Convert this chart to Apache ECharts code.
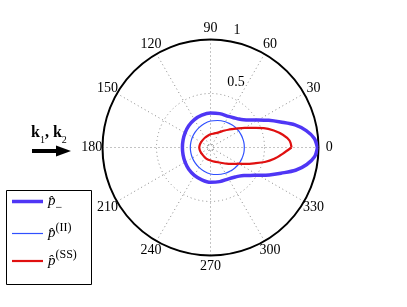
<!DOCTYPE html>
<html><head><meta charset="utf-8">
<script src="https://cdn.jsdelivr.net/npm/echarts@6/dist/echarts.min.js"></script>
<style>html,body{margin:0;padding:0;background:#fff}#c{width:407px;height:307px}</style>
</head><body><div id="c"></div>
<script>
// angles (degrees) at which the curves were read
var angles = [0,5,10,15,20,25,30,35,40,45,50,60,75,90,105,120,135,150,165,180,195,210,225,240,255,270,285,300,310,315,320,325,330,335,340,345,350,355,360];
// p_- (thick blue)
var pMinus = [0.99,0.965,0.90,0.81,0.69,0.595,0.51,0.445,0.40,0.372,0.355,0.333,0.325,0.32,0.31,0.298,0.285,0.272,0.263,0.26,0.263,0.272,0.285,0.298,0.31,0.322,0.327,0.335,0.357,0.375,0.405,0.45,0.515,0.60,0.695,0.815,0.905,0.968,0.99];
// p^(II) (thin blue)
var pII = [0.313,0.313,0.312,0.310,0.308,0.305,0.303,0.299,0.295,0.290,0.285,0.275,0.259,0.245,0.228,0.213,0.201,0.193,0.188,0.187,0.188,0.193,0.201,0.213,0.228,0.245,0.259,0.275,0.285,0.290,0.295,0.299,0.303,0.305,0.308,0.310,0.312,0.313,0.313];
// p^(SS) (red)
var pSS = [0.75,0.735,0.68,0.607,0.525,0.43,0.365,0.31,0.265,0.232,0.205,0.165,0.135,0.122,0.11,0.104,0.10,0.10,0.102,0.104,0.102,0.10,0.10,0.105,0.113,0.12,0.135,0.16,0.19,0.21,0.235,0.265,0.30,0.36,0.43,0.52,0.60,0.67,0.75];
// angle tick labels
var angleTicks = [0,30,60,90,120,150,180,210,240,270,300,330];
// radial tick labels
var radialTicks = ['0.5','1'];
var innerRingR = 0.028;
var innerRingAngles = [0,30,60,90,120,150,180,210,240,270,300,330,360];

var seriesNames = ['pm','pII','pSS'];
function pairs(vals){ return vals.map(function(v,i){ return [v, angles[i]]; }); }

var CX = 210.5, CY = 147.5, R = 108;
var chart = echarts.init(document.getElementById('c'), null, {renderer:'canvas'});
var serif = 'Liberation Serif';
var rich = {
  p:{fontFamily:serif,fontStyle:'italic',fontSize:15,lineHeight:24,color:'#000'},
  sub:{fontFamily:serif,fontSize:12,lineHeight:14,verticalAlign:'bottom',color:'#000'},
  sup:{fontFamily:serif,fontSize:12,lineHeight:13,verticalAlign:'top',color:'#000'}
};
var legendText = {
  pm:'{p|p̂}{sub|−}',
  pII:'{p|p̂}{sup|(II)}',
  pSS:'{p|p̂}{sup|(SS)}'
};
function polarPt(r, deg){
  var a = deg*Math.PI/180;
  return [CX + r*R*Math.cos(a), CY - r*R*Math.sin(a)];
}
var graphics = [
  {type:'rect', shape:{x:6.5,y:190.5,width:85,height:94}, style:{fill:'#fff', stroke:'#000', lineWidth:1}, z:0},
  {type:'rect', shape:{x:32,y:149,width:28,height:4}, style:{fill:'#000'}},
  {type:'polygon', shape:{points:[[56,145.5],[71,151],[56,156.5]]}, style:{fill:'#000'}},
  {type:'text', left:31, top:125, style:{
    text:'{k|k}{s|1}{k|, k}{s|2}',
    rich:{k:{fontFamily:serif,fontWeight:'bold',fontSize:16,lineHeight:20,verticalAlign:'top',fill:'#000'},
          s:{fontFamily:serif,fontSize:10,lineHeight:10,verticalAlign:'bottom',fill:'#000'}}
  }}
];
angleTicks.forEach(function(t){
  var p = polarPt(1.1, t);
  graphics.push({type:'text', x:p[0], y:p[1], style:{text:String(t), fontFamily:serif, fontSize:14, fill:'#000', align:'center', verticalAlign:'middle'}, z:10});
});
var rPos = [polarPt(0.65,68.7), polarPt(1.115,77.3)];
radialTicks.forEach(function(t,i){
  graphics.push({type:'text', x:rPos[i][0], y:rPos[i][1], style:{text:t, fontFamily:serif, fontSize:14, fill:'#000', align:'center', verticalAlign:'middle'}, z:10});
});

chart.setOption({
  animation:false,
  polar:{center:[CX,CY], radius:R},
  angleAxis:{
    type:'value', min:0, max:360, interval:30, startAngle:0, clockwise:false,
    axisLine:{show:true, lineStyle:{color:'#000', width:2}},
    axisTick:{show:false},
    axisLabel:{show:false},
    splitLine:{show:true, lineStyle:{color:'#888', type:[1,3], width:1}}
  },
  radiusAxis:{
    type:'value', min:0, max:1, interval:0.5,
    axisLine:{show:false}, axisTick:{show:false}, axisLabel:{show:false},
    splitLine:{show:true, lineStyle:{color:'#888', type:[1,3], width:1}}
  },
  legend:{
    orient:'vertical', left:6, top:194,
    data:[
      {name:'pm', icon:'path://M0,0L31,0L31,3.5L0,3.5Z'},
      {name:'pII', icon:'path://M0,0L31,0L31,1.2L0,1.2Z'},
      {name:'pSS', icon:'path://M0,0L31,0L31,2.2L0,2.2Z'}
    ],
    itemWidth:31, itemHeight:12, itemGap:8,
    symbolKeepAspect:true,
    itemStyle:{borderWidth:0},
    lineStyle:{width:0},
    padding:[0,6,6,6],
    textStyle:{rich:rich, color:'#000', height:24},
    formatter:function(n){ return legendText[n]; },
    z:5
  },
  graphic:graphics,
  series:[
    {name:'inner', type:'line', coordinateSystem:'polar', silent:true, symbol:'none',
     data:innerRingAngles.map(function(a){return [innerRingR,a];}),
     lineStyle:{color:'#888', width:1, type:[1,2]}, z:1},
    {name:'pm', type:'line', coordinateSystem:'polar', symbol:'none', smooth:0.3,
     data:pairs(pMinus), lineStyle:{color:'#4f36f5', width:3.5}, itemStyle:{color:'#4f36f5'}, z:3},
    {name:'pII', type:'line', coordinateSystem:'polar', symbol:'none', smooth:0.3,
     data:pairs(pII), lineStyle:{color:'#3050ff', width:1.2}, itemStyle:{color:'#3050ff'}, z:3},
    {name:'pSS', type:'line', coordinateSystem:'polar', symbol:'none', smooth:0.3,
     data:pairs(pSS), lineStyle:{color:'#e01010', width:2.2}, itemStyle:{color:'#e01010'}, z:4}
  ]
});
</script></body></html>
